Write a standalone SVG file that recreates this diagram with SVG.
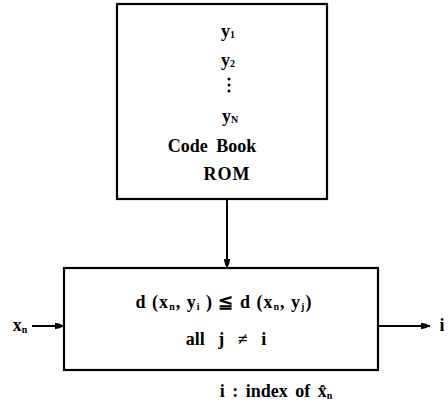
<svg xmlns="http://www.w3.org/2000/svg" width="448" height="410" viewBox="0 0 448 410">
<defs>
<style>
.box{fill:none;stroke:#000;stroke-width:2.2}
.ln{fill:none;stroke:#000;stroke-width:2}
text{font-family:'Liberation Serif','DejaVu Serif',serif;font-weight:700;fill:#000;text-anchor:middle}
.t{font-size:18px}
.s{font-size:10px}
</style>
<marker id="ahs" viewBox="0 0 10 10" refX="10" refY="5" markerWidth="14" markerHeight="9" orient="auto" markerUnits="userSpaceOnUse">
<path d="M0,1.5 Q6,2 10,5 Q6,8 0,8.5 Z" fill="#000"/>
</marker>
</defs>
<g id="codebook">
<rect class="box" x="117" y="4" width="210" height="195"/>
<text class="t" x="228" y="37">y<tspan class="s" dy="1">1</tspan></text>
<text class="t" x="228" y="66">y<tspan class="s" dy="1">2</tspan></text>
<circle cx="229" cy="79" r="1.5"/><circle cx="229" cy="85" r="1.5"/><circle cx="229" cy="91" r="1.5"/>
<text class="t" x="230" y="122">y<tspan class="s" dy="1">N</tspan></text>
<text class="t" x="212" y="152" word-spacing="4">Code Book</text>
<text class="t" x="227" y="180" letter-spacing="1">ROM</text>
</g>
<g id="comparator">
<rect class="box" x="64" y="268" width="314" height="102"/>
<text class="t" x="224" y="308" letter-spacing="1">d (x<tspan class="s" dy="2">n</tspan><tspan dy="-2">, y</tspan><tspan class="s" dy="2">i</tspan><tspan dy="-2"> ) ≦ d (x</tspan><tspan class="s" dy="2">n</tspan><tspan dy="-2">, y</tspan><tspan class="s" dy="2">j</tspan><tspan dy="-2">)</tspan></text>
<text class="t" x="226" y="345" word-spacing="9">all j ≠ i</text>
</g>
<g id="labels">
<text class="t" x="20" y="331">x<tspan class="s" dy="2">n</tspan></text>
<text class="t" x="442" y="331">i</text>
<text class="t" x="276" y="397" word-spacing="3">i : index of x̂<tspan class="s" dy="2">n</tspan></text>
</g>
<g id="connectors">
<line class="ln" x1="227" y1="199" x2="227" y2="268" marker-end="url(#ahs)"/>
<line class="ln" x1="32" y1="326" x2="64" y2="326" marker-end="url(#ahs)"/>
<line class="ln" x1="378" y1="326" x2="430" y2="326" marker-end="url(#ahs)"/>
</g>
</svg>
